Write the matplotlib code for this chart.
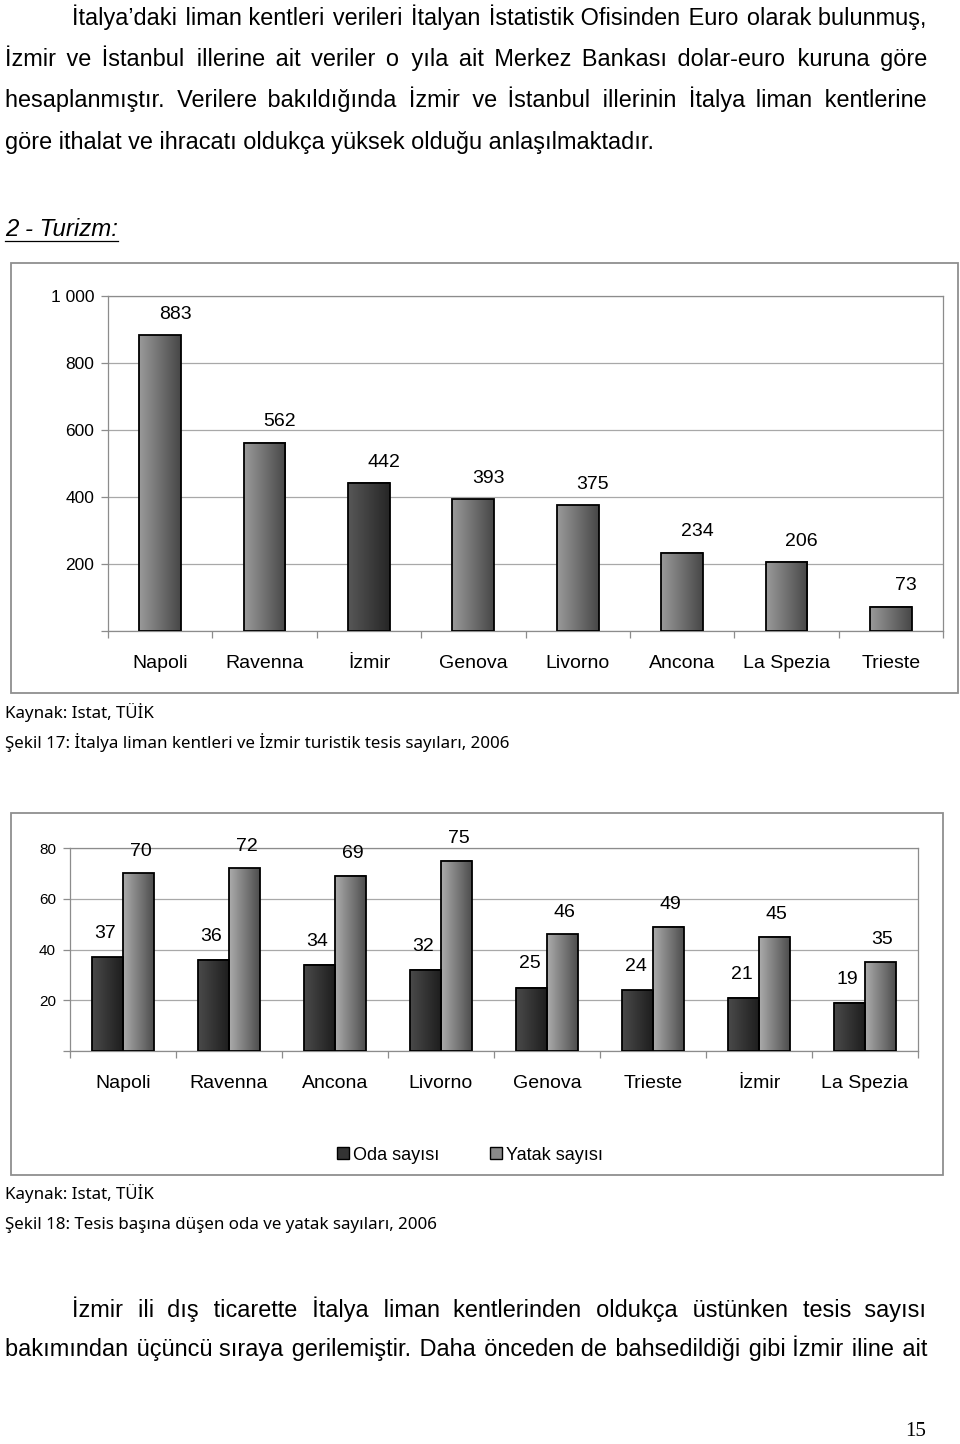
import numpy as np
import matplotlib
matplotlib.use('Agg')
import matplotlib.pyplot as plt
from matplotlib.patches import Rectangle, Patch
from matplotlib.colors import LinearSegmentedColormap

# Şekil 17 - tesis sayıları
cities1 = ['Napoli', 'Ravenna', 'İzmir', 'Genova', 'Livorno', 'Ancona', 'La Spezia', 'Trieste']
tesis_sayisi = [883, 562, 442, 393, 375, 234, 206, 73]
yticks1 = [0, 200, 400, 600, 800, 1000]
ylabels1 = ['', '200', '400', '600', '800', '1 000']

# Şekil 18 - oda / yatak sayıları
cities2 = ['Napoli', 'Ravenna', 'Ancona', 'Livorno', 'Genova', 'Trieste', 'İzmir', 'La Spezia']
oda_sayisi = [37, 36, 34, 32, 25, 24, 21, 19]
yatak_sayisi = [70, 72, 69, 75, 46, 49, 45, 35]
yticks2 = [0, 20, 40, 60, 80]
ylabels2 = ['', '20', '40', '60', '80']

para1 = ["İtalya’daki liman kentleri verileri İtalyan İstatistik Ofisinden Euro olarak bulunmuş,",
         "İzmir ve İstanbul illerine ait veriler o yıla ait Merkez Bankası dolar-euro kuruna göre",
         "hesaplanmıştır. Verilere bakıldığında İzmir ve İstanbul illerinin İtalya liman kentlerine",
         "göre ithalat ve ihracatı oldukça yüksek olduğu anlaşılmaktadır."]
para2 = ["İzmir ili dış ticarette İtalya liman kentlerinden oldukça üstünken tesis sayısı",
         "bakımından üçüncü sıraya gerilemiştir. Daha önceden de bahsedildiği gibi İzmir iline ait"]

plt.rcParams['font.family'] = ['Liberation Sans', 'DejaVu Sans']

body_font = ['Liberation Sans', 'DejaVu Sans']
cap_font = ['Noto Sans', 'DejaVu Sans']

fig = plt.figure(figsize=(9.6, 14.44), dpi=100)
bg = fig.add_axes([0, 0, 1, 1])
bg.set_xlim(0, 960)
bg.set_ylim(1444, 0)
bg.axis('off')
renderer = fig.canvas.get_renderer()


def text_width(s, size, family, style='normal'):
    t = bg.text(0, 0, s, fontsize=size, family=family, style=style)
    w = t.get_window_extent(renderer).width
    t.remove()
    return w


def fit_size(s, width, family, style='normal'):
    return 10 * width / text_width(s, 10, family, style)


def justify(line, x0, x1, yb, size, family):
    # one text per line; gaps filled with normal + hair spaces
    words = line.split()
    aa = text_width('aa', size, family)
    sp = text_width('a a', size, family) - aa
    fine_ch = '\u200a'
    fine = text_width('a' + fine_ch + 'a', size, family) - aa
    if fine < 0.5:
        fine_ch = '\u2009'
        fine = text_width('a' + fine_ch + 'a', size, family) - aa
    g = (x1 - x0 - sum(text_width(w, size, family) for w in words)) / (len(words) - 1)
    s = words[0]
    for _ in range(3):
        s = words[0]
        acc = 0.0
        target = 0.0
        for w in words[1:]:
            target += g
            need = target - acc
            ns = max(int(need // sp), 1)
            nf = max(int(round((need - ns * sp) / fine)), 0)
            acc += ns * sp + nf * fine
            s += ' ' * ns + fine_ch * nf + w
        err = (x1 - x0) - text_width(s, size, family)
        if abs(err) < 1:
            break
        g += err / (len(words) - 1)
    bg.text(x0, yb, s, fontsize=size, family=family, va='baseline')


body_size = fit_size(para1[3], 650, body_font)

# paragraph text
justify(para1[0], 72, 927, 24.5, body_size, body_font)
justify(para1[1], 5, 927, 66, body_size, body_font)
justify(para1[2], 5, 927, 107.5, body_size, body_font)
bg.text(5, 149, para1[3], fontsize=body_size, family=body_font, va='baseline')

tz = '2 - Turizm:'
tz_size = fit_size(tz, 113, body_font, 'italic')
bg.text(5, 236.5, tz, fontsize=tz_size, family=body_font, style='italic', va='baseline')
bg.plot([5, 5 + text_width(tz, tz_size, body_font, 'italic')], [240.5, 240.5], color='black', lw=0.9)

justify(para2[0], 72, 927, 1316.5, body_size, body_font)
justify(para2[1], 5, 927, 1356, body_size, body_font)
bg.text(926, 1432, '15', fontsize=15, family='Liberation Serif', ha='right', va='center')

cap1 = 'Şekil 17: İtalya liman kentleri ve İzmir turistik tesis sayıları, 2006'
cap_size = fit_size(cap1, 503, cap_font)
bg.text(5, 718, 'Kaynak: Istat, TÜİK', fontsize=cap_size, family=cap_font, va='baseline')
bg.text(5, 748, cap1, fontsize=cap_size, family=cap_font, va='baseline')
bg.text(5, 1199, 'Kaynak: Istat, TÜİK', fontsize=cap_size, family=cap_font, va='baseline')
bg.text(5, 1229, 'Şekil 18: Tesis başına düşen oda ve yatak sayıları, 2006',
        fontsize=cap_size, family=cap_font, va='baseline')

# chart frames
bg.add_patch(Rectangle((11, 263), 947, 430, fill=False, ec='#8f8f8f', lw=1.3))
bg.add_patch(Rectangle((11, 813), 932, 362, fill=False, ec='#8f8f8f', lw=1.3))


def grad_bar(ax, x, h, w, c_left, c_right):
    cmap = LinearSegmentedColormap.from_list('g', [c_left, c_right])
    grad = np.linspace(0, 1, 64).reshape(1, -1)
    ax.imshow(grad, extent=[x - w / 2, x + w / 2, 0, h], aspect='auto', cmap=cmap,
              zorder=2, interpolation='bilinear')
    ax.bar(x, h, w, facecolor='none', edgecolor='black', lw=1.3, zorder=3)


def style_axes(ax, n, yt, yl, ysize):
    ax.set_xlim(-0.5, n - 0.5)
    ax.set_yticks(yt)
    ax.set_yticklabels(yl, fontsize=ysize)
    ax.yaxis.grid(True, color='#a8a8a8', lw=0.9)
    ax.set_axisbelow(True)
    ax.set_xticks(np.arange(-0.5, n, 1), minor=True)
    ax.tick_params(axis='x', which='major', length=0, pad=17, labelsize=14)
    ax.tick_params(axis='x', which='minor', length=5, color='#8c8c8c', width=0.9)
    ax.tick_params(axis='y', length=5, color='#8c8c8c', width=0.9, pad=5)
    for s in ax.spines.values():
        s.set_color('#8c8c8c')
        s.set_linewidth(0.9)


# Şekil 17
ax1 = fig.add_axes([108 / 960, 1 - 631 / 1444, 835 / 960, 335 / 1444])
x1 = np.arange(len(cities1))
for xi, v, c in zip(x1, tesis_sayisi, cities1):
    if c == 'İzmir':
        grad_bar(ax1, xi, v, 0.4, '#575757', '#262626')
    else:
        grad_bar(ax1, xi, v, 0.4, '#9a9a9a', '#474747')
    ax1.annotate(str(v), (xi, v), xytext=(11, 15), textcoords='offset points',
                 ha='center', va='center', fontsize=14, clip_on=False)
ax1.set_ylim(0, 1000)
ax1.set_xticks(x1)
ax1.set_xticklabels(cities1)
style_axes(ax1, len(cities1), yticks1, ylabels1, 12.5)

# Şekil 18
ax2 = fig.add_axes([70 / 960, 1 - 1051 / 1444, 848 / 960, 203 / 1444])
x2 = np.arange(len(cities2))
w = 0.29
for xi, o, y in zip(x2, oda_sayisi, yatak_sayisi):
    grad_bar(ax2, xi - w / 2, o, w, '#4a4a4a', '#1e1e1e')
    grad_bar(ax2, xi + w / 2, y, w, '#ababab', '#4e4e4e')
    ax2.annotate(str(o), (xi - w / 2, o), xytext=(-1.5, 17), textcoords='offset points',
                 ha='center', va='center', fontsize=14, clip_on=False)
    ax2.annotate(str(y), (xi + w / 2, y), xytext=(1.5, 16), textcoords='offset points',
                 ha='center', va='center', fontsize=14, clip_on=False)
ax2.set_ylim(0, 80)
ax2.set_xticks(x2)
ax2.set_xticklabels(cities2)
style_axes(ax2, len(cities2), yticks2, ylabels2, 11)

handles = [Patch(facecolor='#333333', edgecolor='black', label='Oda sayısı'),
           Patch(facecolor='#8a8a8a', edgecolor='black', label='Yatak sayısı')]
fig.legend(handles=handles, loc='center', bbox_to_anchor=(470 / 960, 1 - 1155 / 1444),
           ncol=2, frameon=False, fontsize=13, handlelength=0.65, handleheight=0.65,
           handletextpad=0.25, columnspacing=2.8)

fig.savefig('out.png', dpi=100)
